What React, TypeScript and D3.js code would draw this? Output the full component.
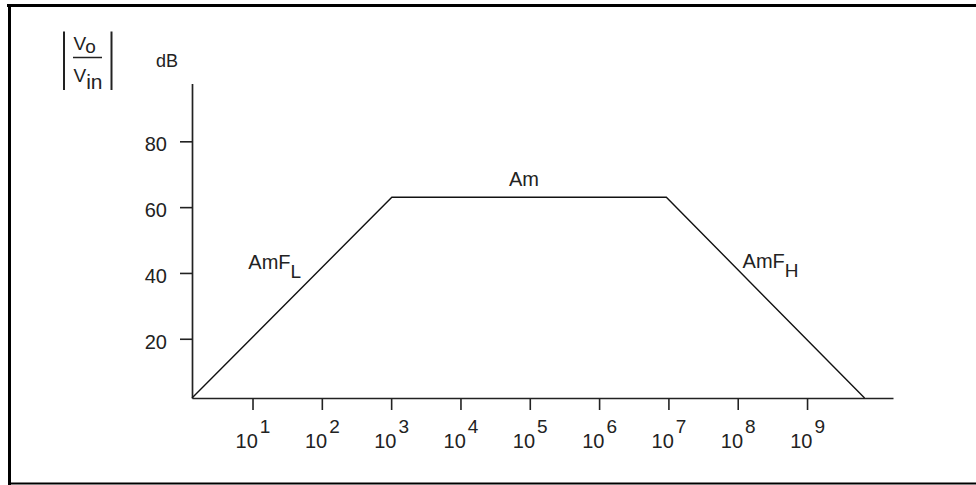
import React, { useRef, useEffect } from 'react';
import * as d3 from 'd3';

// frequency is drawn on a log axis, so points are given as decade exponents
const decadeTicks = [1, 2, 3, 4, 5, 6, 7, 8, 9];
const dbTicks = [20, 40, 60, 80];
const responseExp = [0.127, 3.01, 6.97, 9.83];
const responseDb = [2, 63, 63, 2];
const axisExpRange = [0.127, 10.24];
const axisDbRange = [2, 97.6];

const labelText = ['Am', 'AmF', 'AmF'];
const labelSub = ['', 'L', 'H'];
const labelExp = [4.70, 0.94, 8.07];
const labelDb = [66.5, 41.3, 41.5];

const W = 976;
const H = 485;
const FONT = '"Liberation Sans", Arial, sans-serif';

const App = () => {
  const ref = useRef<SVGSVGElement>(null);

  useEffect(() => {
    if (!ref.current) return;
    const svg = d3.select(ref.current);
    svg.selectAll('*').remove();

    svg.append('rect').attr('width', W).attr('height', H).attr('fill', '#fff');

    // frame: heavy top and left, thin bottom
    svg.append('line').attr('x1', 7).attr('x2', W).attr('y1', 5.5).attr('y2', 5.5)
      .attr('stroke', '#000').attr('stroke-width', 3);
    svg.append('line').attr('x1', 9.5).attr('x2', 9.5).attr('y1', 4).attr('y2', H)
      .attr('stroke', '#000').attr('stroke-width', 3);
    svg.append('line').attr('x1', 8).attr('x2', W).attr('y1', 483.5).attr('y2', 483.5)
      .attr('stroke', '#000').attr('stroke-width', 2);

    const x = d3.scaleLinear().domain(axisExpRange).range([192, 893]);
    const y = d3.scaleLinear().domain(axisDbRange).range([398, 83.4]);

    // y axis
    const gy = svg.append('g')
      .attr('transform', `translate(${x(axisExpRange[0])},0)`)
      .call(d3.axisLeft(y).tickValues(dbTicks).tickSize(12).tickSizeOuter(0).tickFormat(d3.format('d')));
    gy.select('.domain').attr('stroke', '#222').attr('stroke-width', 1.7);
    gy.selectAll('.tick line').attr('stroke', '#222').attr('stroke-width', 1.6);
    gy.selectAll('.tick text')
      .attr('x', -25).attr('dy', '0.48em')
      .attr('font-family', FONT).attr('font-size', 20).attr('fill', '#222');

    // x axis
    const gx = svg.append('g')
      .attr('transform', `translate(0,${y(axisDbRange[0])})`)
      .call(d3.axisBottom(x).tickValues(decadeTicks).tickSize(12).tickSizeOuter(0));
    gx.select('.domain').attr('stroke', '#222').attr('stroke-width', 1.7);
    gx.selectAll('.tick line').attr('stroke', '#222').attr('stroke-width', 1.6);
    gx.selectAll<SVGTextElement, number>('.tick text')
      .attr('y', 50).attr('dy', 0)
      .attr('font-family', FONT).attr('font-size', 20).attr('fill', '#222')
      .each(function (d) {
        const t = d3.select(this);
        t.text(null);
        t.append('tspan').text('10');
        t.append('tspan').attr('dx', 2).attr('dy', -15).style('font-size', '19px').text(String(d));
      });

    // asymptotic response
    const pts = responseExp.map((e, i) => [e, responseDb[i]] as [number, number]);
    const line = d3.line<[number, number]>().x(d => x(d[0])).y(d => y(d[1]));
    svg.append('path')
      .datum(pts)
      .attr('d', line)
      .attr('fill', 'none')
      .attr('stroke', '#111')
      .attr('stroke-width', 1.4);

    // annotations
    labelText.forEach((s, i) => {
      const t = svg.append('text')
        .attr('x', x(labelExp[i])).attr('y', y(labelDb[i]))
        .attr('font-family', FONT).style('font-size', '20px').attr('fill', '#222');
      t.append('tspan').text(s);
      if (labelSub[i]) t.append('tspan').attr('dy', 9).style('font-size', '19px').text(labelSub[i]);
    });

    svg.append('text').attr('x', 156).attr('y', 66.5)
      .attr('font-family', FONT).style('font-size', '18px').attr('fill', '#222').text('dB');

    // |Vo / Vin|
    const mag = svg.append('g').attr('stroke', '#222');
    mag.append('line').attr('x1', 64).attr('x2', 64).attr('y1', 31.5).attr('y2', 90).attr('stroke-width', 2);
    mag.append('line').attr('x1', 111.5).attr('x2', 111.5).attr('y1', 31.5).attr('y2', 90).attr('stroke-width', 2);
    mag.append('line').attr('x1', 73).attr('x2', 102).attr('y1', 57.5).attr('y2', 57.5).attr('stroke-width', 1.5);
    const num = svg.append('text').attr('x', 73.5).attr('y', 50)
      .attr('font-family', FONT).style('font-size', '19px').attr('fill', '#222');
    num.append('tspan').text('V');
    num.append('tspan').attr('dy', 3).text('o');
    const den = svg.append('text').attr('x', 73.5).attr('y', 81.5)
      .attr('font-family', FONT).style('font-size', '19px').attr('fill', '#222');
    den.append('tspan').text('V');
    den.append('tspan').attr('dy', 7.5).style('font-size', '21px').text('in');
  }, []);

  return (
    <svg
      ref={ref}
      width={W}
      height={H}
      style={{ position: 'absolute', left: 0, top: 0, display: 'block' }}
    />
  );
};

export default App;
